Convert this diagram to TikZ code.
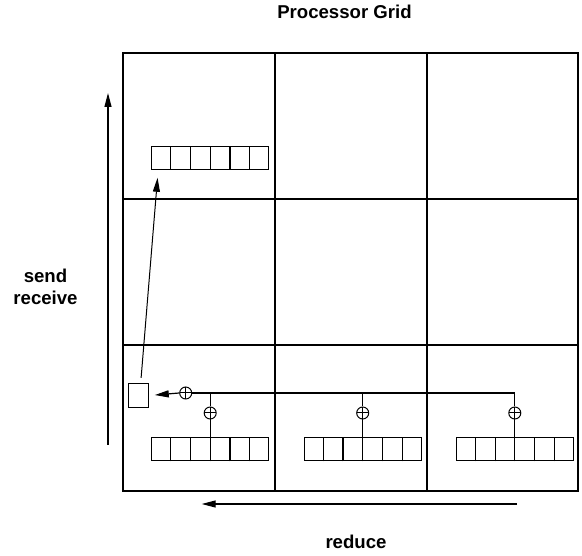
\documentclass[tikz,border=0pt]{standalone}
\usepackage{fontspec}
\setmainfont{Liberation Sans}
\usetikzlibrary{calc}
\usetikzlibrary{arrows.meta}
\tikzset{
  lbl/.style={font=\fontsize{18.6}{22}\selectfont\bfseries, align=center, inner sep=0pt},
  reg/.style={draw, line width=1.2pt, minimum width=117pt, minimum height=23pt, inner sep=0pt},
  accbox/.style={draw, line width=1.2pt, minimum width=20pt, minimum height=24pt, inner sep=0pt},
  opl/.style={draw, circle, line width=1pt, minimum size=12pt, inner sep=0pt,
    path picture={\draw[line width=1pt] (path picture bounding box.north) -- (path picture bounding box.south)
      (path picture bounding box.west) -- (path picture bounding box.east);}}
}

\begin{document}
\begin{tikzpicture}[line cap=butt,line join=miter,>={Triangle[length=14pt,width=7pt]},x=1pt,y=-1pt]
    \useasboundingbox (0,0) rectangle (582,556);
    \draw [line width=1.4pt] (123,53) rectangle (578,491);
    \foreach \gx in {275,427} \draw [line width=1.4pt] (\gx,53) -- (\gx,491);
    \foreach \gy in {199,345} \draw [line width=1.4pt] (123,\gy) -- (578,\gy);
    \node [lbl] (title) at (344.5,12) {Processor Grid};
    \node [lbl] (sendrecv) at (45.5,287) {send\\receive};
    \node [lbl] (reduce) at (356,542) {reduce};
    \node [reg] (regTop) at (210.2,157.7) {};
    \node [reg] (regA) at (210.2,449.2) {};
    \node [reg] (regB) at (362.7,449.2) {};
    \node [reg] (regC) at (514.8,449.2) {};
    \foreach \r in {regTop,regA,regB,regC}
      \foreach \k in {1,...,5}
        \draw [line width=1.2pt] ($(\r.south west)!\k/6!(\r.south east)$) -- ($(\r.north west)!\k/6!(\r.north east)$);
    \node [accbox] (acc) at (138.7,395.5) {};
    \node [opl] (oplAcc) at (185.7,393) {};
    \node [opl] (oplA) at (210.2,413) {};
    \node [opl] (oplB) at (362.7,413) {};
    \node [opl] (oplC) at (514.8,413) {};
    \draw [line width=1.2pt] (oplAcc.east) -- (oplAcc.east -| oplC) -- (oplC.north);
    \draw [line width=1.2pt] (oplAcc -| oplA) -- (oplA.north) (oplA.south) -- (regA.north);
    \draw [line width=1.2pt] (oplAcc -| oplB) -- (oplB.north) (oplB.south) -- (regB.north);
    \draw [line width=1.2pt] (oplC.south) -- (regC.north);
    \draw [->,line width=1.2pt,shorten >=5.5pt] (oplAcc.west) -- (acc.east);
    \draw [->,line width=1pt,shorten <=5pt,shorten >=8pt] ([xshift=2pt]acc.north) -- ([xshift=-52pt]regTop.south);
    \coordinate (sendBot) at (108,445);
    \coordinate (sendTop) at (108,93);
    \coordinate (redR) at (517,504);
    \coordinate (redL) at (201.7,504);
    \draw [->,line width=1.2pt] (sendBot) -- (sendTop);
    \draw [->,line width=1.2pt] (redR) -- (redL);
\end{tikzpicture}
\end{document}
